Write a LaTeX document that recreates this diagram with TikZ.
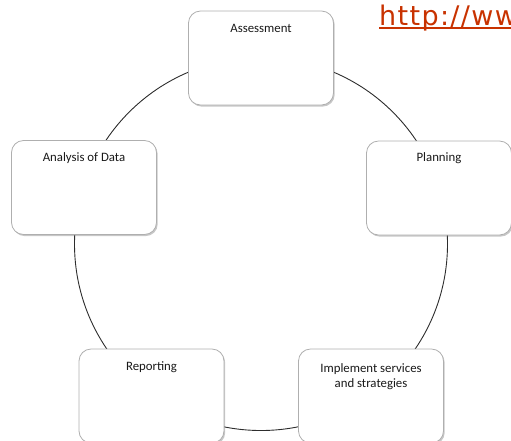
\documentclass[tikz,border=0pt]{standalone}
\usepackage{fontspec}
\setmainfont{Carlito}
\newfontfamily\urlfont[LetterSpace=5]{DejaVu Sans}
\usetikzlibrary{shadows}
\definecolor{linkred}{RGB}{200,50,0}
\definecolor{boxline}{RGB}{175,175,175}
\definecolor{ringline}{RGB}{45,45,45}
\definecolor{txt}{RGB}{25,25,25}
\begin{document}
\begin{tikzpicture}[x=1pt,y=-1pt,
  stagebox/.style={draw=boxline, line width=0.8pt, fill=white, rounded corners=12pt,
    minimum width=145pt, minimum height=94pt, inner sep=0pt,
    drop shadow={shadow xshift=1.2pt, shadow yshift=-1.6pt, opacity=0.4, fill=black!55}},
  stagetext/.style={font=\fontsize{12.8}{14.5}\selectfont, text=txt, inner sep=0pt, anchor=base, align=center},
  ring/.style={draw=ringline, line width=0.9pt}]
\useasboundingbox (0,0) rectangle (511,440);
\coordinate (ctr) at (261,244);
\draw[ring] (ctr) circle[radius=186.5];
\node[stagebox] (assess) at (261,58) {};
\node[stagebox] (plan) at (439,188) {};
\node[stagebox] (impl) at (371,396) {};
\node[stagebox] (report) at (151.5,396) {};
\node[stagebox] (analysis) at (84,187.5) {};
\node[stagetext] (assessT) at ([yshift=-21.5pt]assess.north) {Assessment};
\node[stagetext] (planT) at ([yshift=-21pt]plan.north) {Planning};
\node[stagetext] (implT) at ([yshift=-38.5pt]impl.north) {Implement services\\and strategies};
\node[stagetext] (reportT) at ([yshift=-21.5pt]report.north) {Reporting};
\node[stagetext] (analysisT) at ([yshift=-21pt]analysis.north) {Analysis of Data};
\node[font=\urlfont\fontsize{27}{30}\selectfont, text=linkred, anchor=base west, inner sep=0pt] (url) at (379,25) {http://www};
\draw[linkred, line width=2pt] (379,28) -- (520,28);
\end{tikzpicture}
\end{document}
